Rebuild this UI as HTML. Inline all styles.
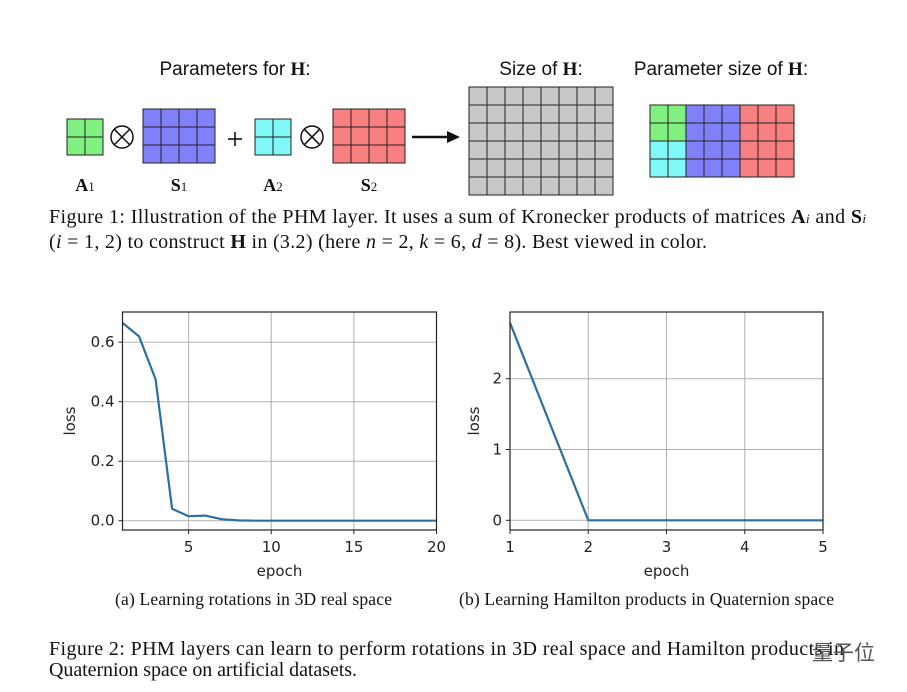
<!DOCTYPE html>
<html><head><meta charset="utf-8"><style>
body{margin:0;background:#fff;width:907px;height:692px;overflow:hidden}
svg{display:block}
.serif{font-family:"Liberation Serif",serif}
.sans{font-family:"DejaVu Sans","Liberation Sans",sans-serif}
.lsans{font-family:"Liberation Sans",sans-serif}
</style></head><body>
<svg id="fig" width="907" height="692" viewBox="0 0 907 692" xmlns="http://www.w3.org/2000/svg">
<g id="topdiag"></g>
<g class="serif" font-size="20" fill="#111">
<text x="49" y="223" textLength="817" lengthAdjust="spacing">Figure 1: Illustration of the PHM layer. It uses a sum of Kronecker products of matrices <tspan font-weight="bold">A</tspan><tspan font-style="italic" font-size="13">i</tspan> and <tspan font-weight="bold">S</tspan><tspan font-style="italic" font-size="13">i</tspan></text>
<text x="49" y="248" textLength="658" lengthAdjust="spacing">(<tspan font-style="italic">i</tspan> = 1, 2) to construct <tspan font-weight="bold">H</tspan> in (3.2) (here <tspan font-style="italic">n</tspan> = 2, <tspan font-style="italic">k</tspan> = 6, <tspan font-style="italic">d</tspan> = 8). Best viewed in color.</text>
</g>
<g id="c1"></g>
<g id="c2"></g>
<g class="serif" font-size="17.5" fill="#111">
<text x="115" y="605" textLength="277" lengthAdjust="spacing">(a)  Learning rotations in 3D real space</text>
<text x="459" y="605" textLength="375" lengthAdjust="spacing">(b)  Learning Hamilton products in Quaternion space</text>
</g>
<g class="serif" font-size="20" fill="#111">
<text x="49" y="655" textLength="795" lengthAdjust="spacing">Figure 2: PHM layers can learn to perform rotations in 3D real space and Hamilton products in</text>
<text x="49" y="676" textLength="308" lengthAdjust="spacing">Quaternion space on artificial datasets.</text>
</g>
<text x="812" y="660" font-family="'Noto Sans CJK SC',sans-serif" font-size="21" fill="#555">量子位</text>
</svg>
<script>
// chart data
const epochsA = [1,2,3,4,5,6,7,8,9,10,11,12,13,14,15,16,17,18,19,20];
const lossA = [0.665,0.62,0.475,0.04,0.015,0.017,0.005,0.001,0,0,0,0,0,0,0,0,0,0,0,0];
const ticksAX = [5,10,15,20];
const ticksAY = [0.0,0.2,0.4,0.6];
const tickLabelsAY = ["0.0","0.2","0.4","0.6"];
const epochsB = [1,2,3,4,5];
const lossB = [2.79,0,0,0,0];
const ticksBX = [1,2,3,4,5];
const ticksBY = [0,1,2];
const tickLabelsBY = ["0","1","2"];

const NS="http://www.w3.org/2000/svg";
function mk(parent,tag,attrs){const e=document.createElementNS(NS,tag);for(const k in attrs)e.setAttribute(k,attrs[k]);parent.appendChild(e);return e;}

function chart(g,o){
  const sx=v=>o.x0+(v-o.xmin)/(o.xmax-o.xmin)*(o.x1-o.x0);
  const sy=v=>o.yz-(v)*o.ppu;
  o.xt.forEach(t=>{
    const l=mk(g,'line',{x1:sx(t),x2:sx(t),y1:o.top,y2:o.bot,stroke:'#b0b0b0','stroke-width':1});
    
    
    mk(g,'line',{x1:sx(t),x2:sx(t),y1:o.bot,y2:o.bot+4,stroke:'#222'});
    const tx=mk(g,'text',{x:sx(t),y:o.bot+22,'text-anchor':'middle','font-size':15,fill:'#222',class:'sans'});
    tx.textContent=String(t);
    
    
  });
  o.yt.forEach((t,i)=>{
    const l=mk(g,'line',{x1:o.x0,x2:o.x1,y1:sy(t),y2:sy(t),stroke:'#b0b0b0','stroke-width':1});
    
    
    mk(g,'line',{x1:o.x0-4,x2:o.x0,y1:sy(t),y2:sy(t),stroke:'#222'});
    const tx=mk(g,'text',{x:o.x0-8,y:sy(t)+5,'text-anchor':'end','font-size':15,fill:'#222',class:'sans'});
    tx.textContent=o.yl[i];
    
    
  });
  const pts=o.xs.map((x,i)=>sx(x).toFixed(1)+','+sy(o.ys[i]).toFixed(1)).join(' ');
  const pl=mk(g,'polyline',{points:pts,fill:'none',stroke:'#2b6f9e','stroke-width':2.2,'stroke-linejoin':'round'});
  
  
  const fr=mk(g,'rect',{x:o.x0,y:o.top,width:o.x1-o.x0,height:o.bot-o.top,fill:'none',stroke:'#222','stroke-width':1.2});
  
  
  const xl=mk(g,'text',{x:(o.x0+o.x1)/2,y:o.bot+46,'text-anchor':'middle','font-size':15,fill:'#222',class:'sans'});
  xl.textContent='epoch';
  
  
  const cy=(o.top+o.bot)/2;
  const yl=mk(g,'text',{x:o.ylx,y:cy,'text-anchor':'middle','font-size':15,fill:'#222',class:'sans',transform:`rotate(-90 ${o.ylx} ${cy})`});
  yl.textContent='loss';
  
  
}
chart(document.getElementById('c1'),{x0:122.5,x1:436.5,top:312,bot:530,xmin:1,xmax:20,yz:520.7,ppu:297.5,xt:ticksAX,yt:ticksAY,yl:tickLabelsAY,xs:epochsA,ys:lossA,ylx:75});
chart(document.getElementById('c2'),{x0:510,x1:823,top:312,bot:530,xmin:1,xmax:5,yz:520.3,ppu:70.8,xt:ticksBX,yt:ticksBY,yl:tickLabelsBY,xs:epochsB,ys:lossB,ylx:479});

// top diagram
const topG=document.getElementById('topdiag');
function grid(name,x,y,cols,rows,cell,colorFn){
  const g=mk(topG,'g',{});
  
  
  for(let r=0;r<rows;r++)for(let c=0;c<cols;c++)
    mk(g,'rect',{x:x+c*cell,y:y+r*cell,width:cell,height:cell,fill:colorFn(c,r),stroke:'#222','stroke-width':1});
}
const G='#80f080',B='#8080f8',C='#80f8f8',R='#f88080',GR='#c8c8c8';
grid('matrix-a1',67,119,2,2,18,()=>G);
grid('matrix-s1',143,109,4,3,18,()=>B);
grid('matrix-a2',255,119,2,2,18,()=>C);
grid('matrix-s2',333,109,4,3,18,()=>R);
grid('matrix-h-size',469,87,8,6,18,()=>GR);
grid('matrix-h-params',650,105,8,4,18,(c,r)=>c<2?(r<2?G:C):(c<5?B:R));
function otimes(cx,name){
  const g=mk(topG,'g',{});
  
  
  mk(g,'circle',{cx:cx,cy:137,r:11,fill:'none',stroke:'#111','stroke-width':1.5});
  mk(g,'line',{x1:cx-7.8,y1:129.2,x2:cx+7.8,y2:144.8,stroke:'#111','stroke-width':1.5});
  mk(g,'line',{x1:cx+7.8,y1:129.2,x2:cx-7.8,y2:144.8,stroke:'#111','stroke-width':1.5});
}
otimes(122,'kron-symbol-1');otimes(312,'kron-symbol-2');
mk(topG,'line',{x1:235,y1:132,x2:235,y2:146,stroke:'#111','stroke-width':1.6});
mk(topG,'line',{x1:228,y1:139,x2:242,y2:139,stroke:'#111','stroke-width':1.6});
mk(topG,'line',{x1:412,y1:137,x2:450,y2:137,stroke:'#111','stroke-width':2.5});
mk(topG,'polygon',{points:'447,131 460,137 447,143',fill:'#111'});
function txt(x,y,html,cls,size,name){
  const t=mk(topG,'text',{x:x,y:y,'text-anchor':'middle','font-size':size,fill:'#111',class:cls});
  t.innerHTML=html;
  
  
}
txt(235,75,'Parameters for <tspan font-family="Liberation Serif" font-weight="bold">H</tspan>:','lsans',19,'title-parameters');
txt(541,75,'Size of <tspan font-family="Liberation Serif" font-weight="bold">H</tspan>:','lsans',19,'title-size');
txt(721,75,'Parameter size of <tspan font-family="Liberation Serif" font-weight="bold">H</tspan>:','lsans',19,'title-parameter-size');
txt(85,191,'<tspan font-weight="bold">A</tspan><tspan font-size="13">1</tspan>','serif',18,'label-a1');
txt(179,191,'<tspan font-weight="bold">S</tspan><tspan font-size="13">1</tspan>','serif',18,'label-s1');
txt(273,191,'<tspan font-weight="bold">A</tspan><tspan font-size="13">2</tspan>','serif',18,'label-a2');
txt(369,191,'<tspan font-weight="bold">S</tspan><tspan font-size="13">2</tspan>','serif',18,'label-s2');
</script>
</body></html>
